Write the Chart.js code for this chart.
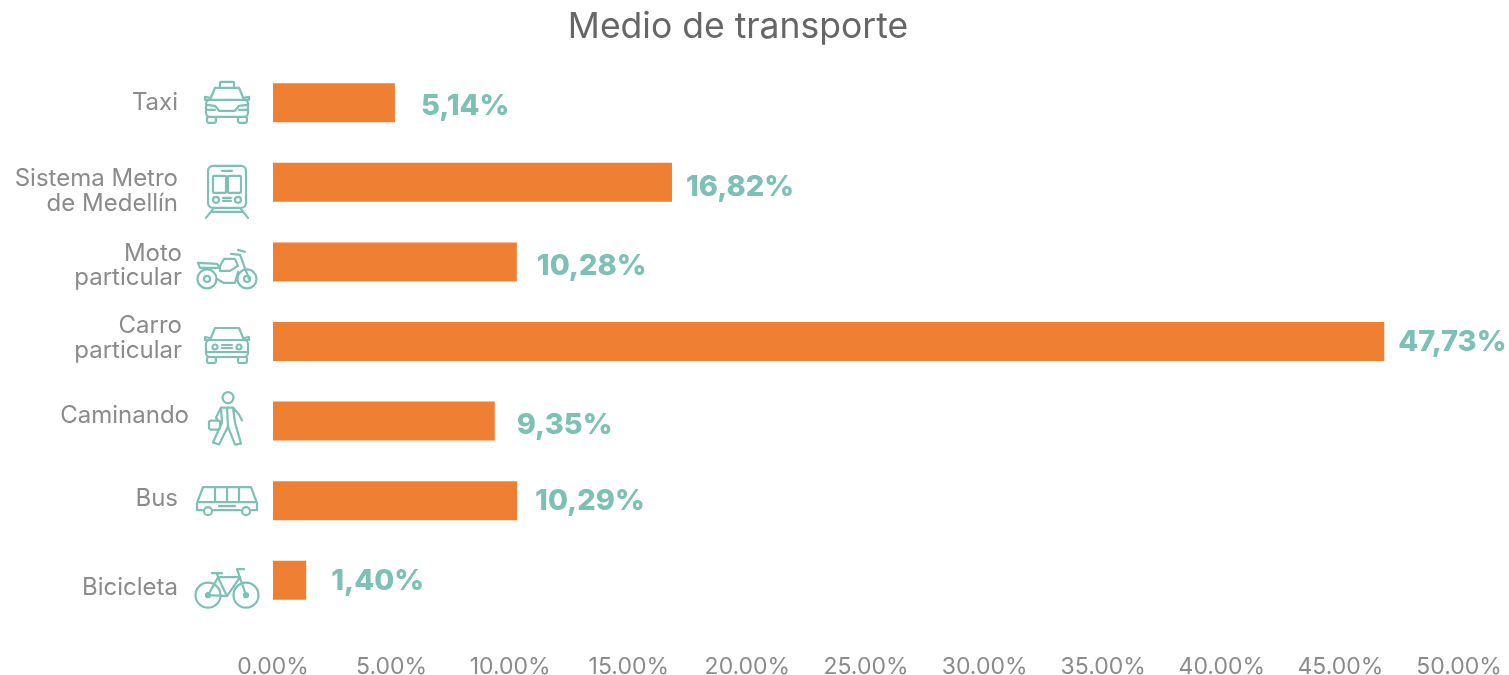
<!DOCTYPE html>
<html>
<head>
<meta charset="utf-8">
<style>
html,body{margin:0;padding:0;background:#fff;overflow:hidden}
#wrap{width:1509px;height:675px;position:relative}
</style>
<script src="https://cdn.jsdelivr.net/npm/chart.js@4"></script>
</head>
<body>
<div id="wrap"><canvas id="chart" width="1509" height="675"></canvas></div>
<script>
var chartTitle = "Medio de transporte";
var categories = [["Taxi"], ["Sistema Metro", "de Medellín"], ["Moto", "particular"], ["Carro", "particular"], ["Caminando"], ["Bus"], ["Bicicleta"]];
// Carro: the bar stops at about 46.85 on the printed axis although its label says 47,73
var values = [5.14, 16.82, 10.28, 46.85, 9.35, 10.29, 1.40];
var valueLabels = ["5,14%", "16,82%", "10,28%", "47,73%", "9,35%", "10,29%", "1,40%"];
var iconNames = ["taxi", "metro", "moto", "car", "walk", "bus", "bike"];

var teal = "#7cc0b6";
var grey = "#8b8b8b";

// small nudges, the rows of the original are not lined up with each other
var labelRight = [178, 178, 182, 182, 189, 178, 178];
var labelDy = [0, 9, 4, -3, -5, -1.5, 8];
var iconDy = [0, 9.5, 7, 1.5, -1.5, 0.5, 8];
var valueDx = [26, 14, 20, 14, 22, 18, 25];
var valueDy = [3, 5, 4, 1, 4, 1, 1];

function roundBox(c, x, y, w, h, r){
    c.moveTo(x + r, y);
    c.roundRect(x, y, w, h, r);
}
function circle(c, x, y, r){
    c.moveTo(x + r, y);
    c.arc(x, y, r, 0, 2 * Math.PI);
}
function line(c, pts){
    c.moveTo(pts[0], pts[1]);
    for(var i = 2; i < pts.length; i += 2) c.lineTo(pts[i], pts[i + 1]);
}

function carBody(c){
    line(c, [-17,-3, -12,-15, 12,-15, 17,-3]);
    line(c, [-17,-3, 17,-3]);
    line(c, [-17,-5, -22,-6, -22,-3, -17,-3]);
    line(c, [17,-5, 22,-6, 22,-3, 17,-3]);
    roundBox(c, -21, -3, 42, 17, 4);
    roundBox(c, -20, 14, 9, 6, 2);
    roundBox(c, 11, 14, 9, 6, 2);
}

// hand drawn icons, centred on 0,0
var icons = {
    taxi: function(c){
        carBody(c);
        roundBox(c, -7, -21, 14, 6, 1);
        line(c, [-20,2, -12,3, -8,8, 8,8, 12,3, 20,2]);
        line(c, [-20,7, -12,7]);
        line(c, [12,7, 20,7]);
    },
    car: function(c){
        carBody(c);
        circle(c, -12, 4, 2.5);
        circle(c, 12, 4, 2.5);
        line(c, [-5,2, 5,2]);
        line(c, [-5,5, 5,5]);
        line(c, [-21,9, 21,9]);
    },
    metro: function(c){
        roundBox(c, -19, -26, 38, 42, 5);
        roundBox(c, -14, -16, 13, 17, 1);
        roundBox(c, 1, -16, 13, 17, 1);
        line(c, [-5,-21, 5,-21]);
        circle(c, -11, 8, 3);
        circle(c, 11, 8, 3);
        line(c, [-4,6, 4,6]);
        line(c, [-4,9, 4,9]);
        line(c, [-13,16, -21,26]);
        line(c, [13,16, 21,26]);
        line(c, [-15,20, 15,20]);
    },
    moto: function(c){
        circle(c, -20, 10, 9.5);
        circle(c, -20, 10, 3);
        circle(c, 20, 10, 9.5);
        circle(c, 20, 10, 3);
        line(c, [-29,-6, -10,-5, -7,-1, -27,-1, -29,-6]);
        line(c, [-7,-3, -3,-10, 8,-10, 11,-3, 3,2, -7,2, -7,-3]);
        line(c, [-10,10, -3,14, 8,14, 11,3]);
        line(c, [4,-15, 13,-14, 22,10]);
        line(c, [11,-19, 18,-17]);
    },
    walk: function(c){
        circle(c, 1, -22, 5.5);
        line(c, [-6,-12, 6,-12, 8,3, 14,24, 8,25, 1,7, -8,25, -14,23, -5,3, -6,-12]);
        line(c, [6,-12, 12,-5, 15,1]);
        line(c, [-6,-12, -11,-2, -9,1]);
        line(c, [0,-12, 1,7]);
        roundBox(c, -18, 1, 11, 9, 2);
    },
    bus: function(c){
        line(c, [-24,-14, 24,-14, 30,2, 30,9, 25,9]);
        line(c, [-24,-14, -30,2, -30,9, -25,9]);
        line(c, [-29,1, 29,1]);
        line(c, [-13,9, 13,9]);
        line(c, [-12,-14, -12,1]);
        line(c, [0,-14, 0,1]);
        line(c, [12,-14, 12,1]);
        line(c, [-8,5, 8,5]);
        circle(c, -19, 10, 4);
        circle(c, 19, 10, 4);
    },
    bike: function(c){
        circle(c, -19, 7, 12.5);
        circle(c, -19, 7, 2);
        circle(c, 19, 7, 12.5);
        circle(c, 19, 7, 2);
        line(c, [-19,7, -9,-11, 13,-11, 0,8, -19,7]);
        line(c, [-9,-11, 0,8]);
        line(c, [-10,-14, -8,-9]);
        line(c, [-15,-15, -5,-15]);
        line(c, [19,7, 10,-19, 17,-19]);
    }
};

var decorationsPlugin = {
    id: "decorations",
    afterDatasetsDraw: function(chart){
        var c = chart.ctx;
        var meta = chart.getDatasetMeta(0);

        c.save();
        c.fillStyle = "#666666";
        c.font = "400 35.5px Inter, Roboto, sans-serif";
        c.textAlign = "center";
        c.textBaseline = "middle";
        c.fillText(chartTitle, 738, 27);
        c.restore();

        meta.data.forEach(function(bar, i){
            // category label
            c.save();
            c.fillStyle = grey;
            c.font = "400 24px Inter, Roboto, sans-serif";
            c.textAlign = "right";
            c.textBaseline = "middle";
            var lines = categories[i];
            var y0 = bar.y + labelDy[i] - (lines.length - 1) * 12.25;
            lines.forEach(function(txt, n){
                c.fillText(txt, labelRight[i], y0 + n * 24.5);
            });
            c.restore();

            // value label
            c.save();
            c.fillStyle = teal;
            c.font = "800 29px Inter, Roboto, sans-serif";
            c.textBaseline = "middle";
            c.textAlign = "left";
            c.fillText(valueLabels[i], bar.x + valueDx[i], bar.y + valueDy[i]);
            c.restore();

            // icon
            c.save();
            c.translate(227, bar.y + iconDy[i]);
            c.strokeStyle = teal;
            c.lineWidth = 2.2;
            c.lineJoin = "round";
            c.lineCap = "round";
            c.beginPath();
            icons[iconNames[i]](c);
            c.stroke();
            c.restore();
        });
    }
};

new Chart(document.getElementById("chart"), {
    type: "bar",
    data: {
        labels: categories,
        datasets: [{
            data: values,
            backgroundColor: "#ef7f33",
            categoryPercentage: 1,
            barPercentage: 0.49
        }]
    },
    plugins: [decorationsPlugin],
    options: {
        indexAxis: "y",
        responsive: false,
        animation: false,
        layout: { padding: { left: 0, right: 50, top: 63, bottom: 0 } },
        plugins: {
            legend: { display: false },
            tooltip: { enabled: false },
            title: { display: false }
        },
        scales: {
            x: {
                min: 0,
                max: 50,
                afterFit: function(axis){
                    axis.height = 55;
                    axis.paddingRight = 0;
                },
                ticks: {
                    stepSize: 5,
                    color: grey,
                    padding: 25,
                    font: { family: "Inter, Roboto, sans-serif", size: 23 },
                    maxRotation: 0,
                    callback: function(v){ return v.toFixed(2) + "%"; }
                },
                grid: { display: false },
                border: { display: false }
            },
            y: {
                afterFit: function(axis){ axis.width = 273; },
                ticks: { display: false },
                grid: { display: false },
                border: { display: false }
            }
        }
    }
});
</script>
</body>
</html>
